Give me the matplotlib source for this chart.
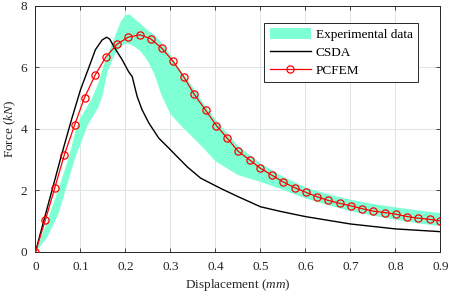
import matplotlib
matplotlib.use('Agg')
import matplotlib.pyplot as plt

plt.rcParams['font.family'] = ['Liberation Serif', 'DejaVu Serif']
plt.rcParams['mathtext.fontset'] = 'custom'
plt.rcParams['mathtext.rm'] = 'Liberation Serif'
plt.rcParams['mathtext.it'] = 'Liberation Serif:italic'
plt.rcParams['font.size'] = 9.5

"""Data (read off the reference)"""
# experimental band: lower / upper envelope
exp_x = [0, 0.025, 0.05, 0.075, 0.09, 0.1, 0.115, 0.125, 0.14, 0.15, 0.16, 0.175,
         0.19, 0.2, 0.21, 0.22, 0.235, 0.25, 0.265, 0.28, 0.3, 0.325, 0.35, 0.375,
         0.4, 0.45, 0.5, 0.55, 0.6, 0.65, 0.7, 0.75, 0.8, 0.85, 0.9]
exp_upper = [0, 0.95, 2.0, 3.12, 4.0, 4.35, 4.73, 4.97, 5.5, 6.0, 6.4, 6.95,
             7.5, 7.7, 7.72, 7.58, 7.4, 7.2, 7.05, 6.8, 6.4, 5.85, 5.35, 4.8,
             4.3, 3.45, 2.88, 2.45, 2.1, 1.88, 1.7, 1.56, 1.45, 1.35, 1.26]
exp_lower = [0, 0.45, 1.2, 2.4, 3.15, 3.5, 4.08, 4.35, 4.7, 5.15, 5.85, 6.38,
             6.68, 6.78, 6.75, 6.68, 6.5, 6.2, 5.75, 5.1, 4.48, 4.08, 3.72, 3.35,
             2.95, 2.5, 2.28, 2.02, 1.74, 1.52, 1.33, 1.18, 1.05, 0.93, 0.84]

csda_x = [0, 0.02, 0.059, 0.08, 0.1, 0.122, 0.133, 0.148, 0.158, 0.165, 0.174,
          0.193, 0.2, 0.207, 0.215, 0.226, 0.237, 0.252, 0.274, 0.296, 0.337,
          0.367, 0.411, 0.45, 0.5, 0.544, 0.6, 0.7, 0.8, 0.9]
csda_y = [0, 1.1, 3.21, 4.3, 5.27, 6.13, 6.57, 6.89, 6.98, 6.92, 6.68,
          6.24, 6.05, 5.86, 5.7, 5.05, 4.62, 4.19, 3.70, 3.38, 2.77,
          2.40, 2.07, 1.8, 1.47, 1.32, 1.15, 0.91, 0.75, 0.66]

pcfem_x = [0, 0.022, 0.043, 0.064, 0.087, 0.109, 0.133, 0.156, 0.181, 0.206,
           0.232, 0.256, 0.281, 0.305, 0.330, 0.353, 0.378, 0.402, 0.426, 0.45,
           0.476, 0.5, 0.526, 0.55, 0.576, 0.601, 0.625, 0.65, 0.676, 0.701,
           0.725, 0.75, 0.776, 0.801, 0.826, 0.85, 0.876, 0.9]
pcfem_y = [0, 1.04, 2.09, 3.15, 4.13, 5.02, 5.76, 6.33, 6.75, 6.98,
           7.06, 6.93, 6.62, 6.21, 5.68, 5.12, 4.61, 4.11, 3.70, 3.28,
           2.99, 2.72, 2.49, 2.28, 2.09, 1.94, 1.80, 1.68, 1.58, 1.50,
           1.41, 1.33, 1.28, 1.23, 1.15, 1.10, 1.06, 1.01]

xticks = [0, 0.1, 0.2, 0.3, 0.4, 0.5, 0.6, 0.7, 0.8, 0.9]
xticklabels = ['0', '0.1', '0.2', '0.3', '0.4', '0.5', '0.6', '0.7', '0.8', '0.9']
yticks = [0, 2, 4, 6, 8]

"""Plot"""
fig = plt.figure(figsize=(4.49, 2.93), dpi=100)
ax = fig.add_axes([0.079, 0.140, 0.902, 0.840])

ax.fill_between(exp_x, exp_lower, exp_upper, facecolor='#7fffd4', edgecolor='none',
                label='Experimental data', zorder=2)
ax.plot(csda_x, csda_y, color='black', linewidth=1.0, label='CSDA', zorder=3)
ax.plot(pcfem_x, pcfem_y, color='red', linewidth=0.9, marker='o', markersize=5.2,
        markerfacecolor='none', markeredgecolor='red', markeredgewidth=0.9,
        label='PCFEM', zorder=4)

ax.set_xlim(0, 0.9)
ax.set_ylim(0, 8)
ax.set_xticks(xticks)
ax.set_xticklabels(xticklabels)
ax.set_yticks(yticks)
ax.grid(True, color='#dde5e5', linewidth=0.7, zorder=0)
ax.set_axisbelow(True)
ax.tick_params(direction='in', length=3, width=0.6, top=True, right=True,
               colors='#262626', labelcolor='#262626')
ax.tick_params(axis='x', pad=6.5)
ax.tick_params(axis='y', pad=6)
for sp in ax.spines.values():
    sp.set_linewidth(0.7)
    sp.set_color('#262626')

ax.set_xlabel('Displacement ($\\mathit{mm}$)', color='#262626', labelpad=3)
ax.set_ylabel('Force ($\\mathit{kN}$)', color='#262626', labelpad=2)

leg = ax.legend(loc='upper right', bbox_to_anchor=(0.945, 0.932), borderaxespad=0,
                fancybox=False, edgecolor='#262626', framealpha=1,
                handlelength=3.1, handleheight=0.95, handletextpad=0.4,
                borderpad=0.4, labelspacing=0.35)
leg.get_frame().set_linewidth(0.7)

plt.savefig('out.png', format='png', dpi=100)
